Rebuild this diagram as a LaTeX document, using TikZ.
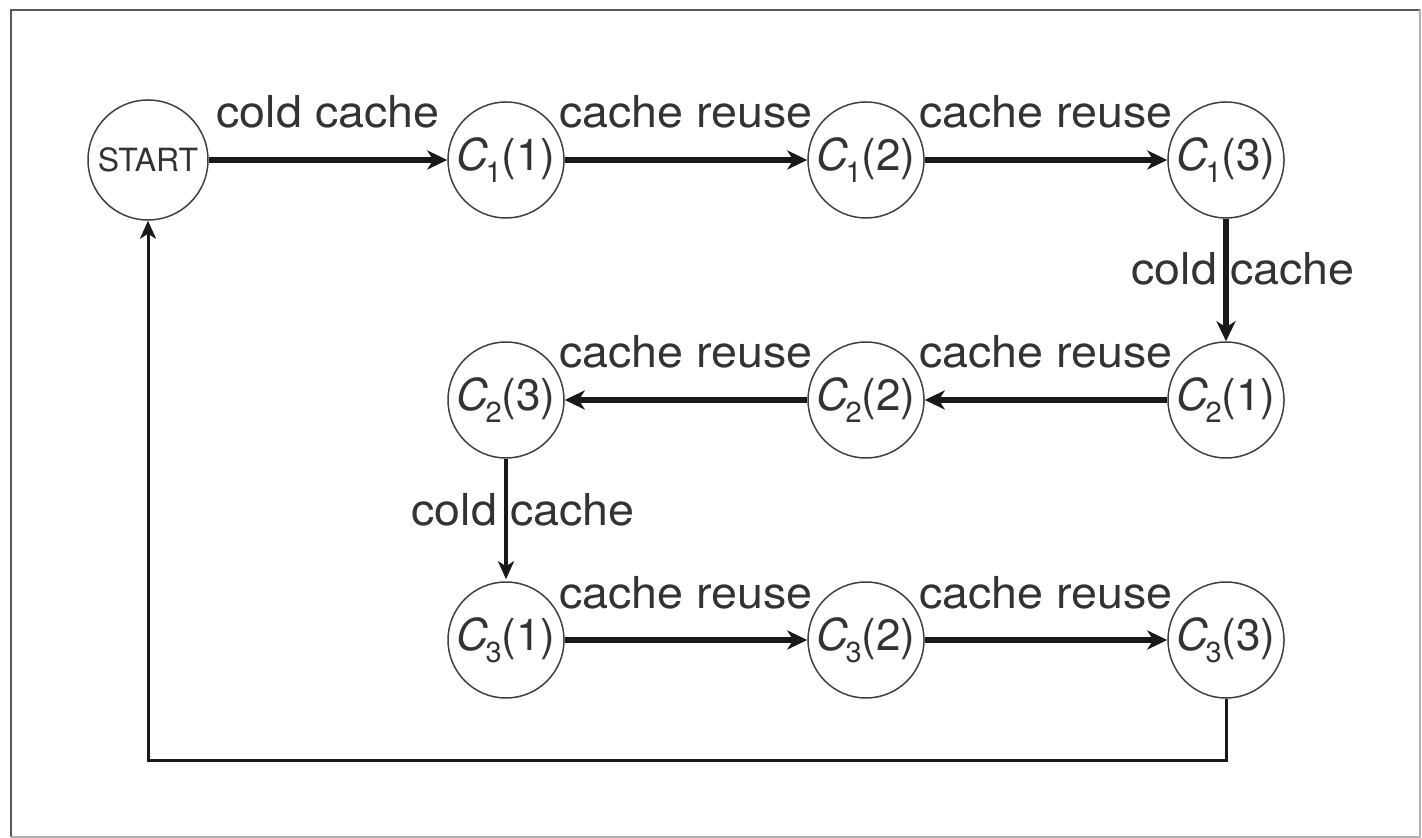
\documentclass[tikz,border=0pt]{standalone}
\usepackage{fontspec}
\setmainfont{TeX Gyre Heros}
\newfontfamily\lblfont{TeX Gyre Heros}[FakeStretch=1.06]
\usetikzlibrary{arrows.meta}

% state name C_i(j): italic C, lowered index, step number in parentheses
\newcommand{\cst}[2]{\textit{C}\kern-0.06em\raisebox{-0.27em}{\fontsize{14.5}{15}\selectfont #1}(#2)}

\begin{document}
\begin{tikzpicture}[x=0.5pt,y=-0.5pt,
  state/.style={circle, draw=black!75, line width=0.75pt, minimum size=58pt,
    inner sep=0pt, text=black!80, font=\fontsize{22}{22}\selectfont},
  startstate/.style={state, minimum size=60pt, font=\fontsize{16}{16}\selectfont},
  flow/.style={draw=black!90, line width=2.7pt,
    -{Stealth[length=10pt,width=9.5pt,inset=3pt]}},
  thinflow/.style={draw=black!90, line width=1.7pt,
    -{Stealth[length=9pt,width=8pt,inset=2.5pt]}},
  lbl/.style={font=\lblfont\fontsize{22}{22}\selectfont, text=black!80,
    anchor=base, yshift=16pt},
  vlbl/.style={font=\lblfont\fontsize{22}{22}\selectfont, text=black!80,
    anchor=base, xshift=8.5pt, yshift=-2.5pt}]

\useasboundingbox (0,0) rectangle (1422,838);

% outer frame
\draw[black!65, line width=1.4pt] (11,837) -- (11,10) -- (1420,10);
\draw[black!30, line width=0.8pt] (1420,10) -- (1420,837) -- (11,837);

% states
\node[startstate] (start) at (148,160) {START};
\node[state] (c11) at (506,160) {\cst{1}{1}};
\node[state] (c12) at (866,160) {\cst{1}{2}};
\node[state] (c13) at (1226,160) {\cst{1}{3}};
\node[state] (c21) at (1226,400) {\cst{2}{1}};
\node[state] (c22) at (866,400) {\cst{2}{2}};
\node[state] (c23) at (506,400) {\cst{2}{3}};
\node[state] (c31) at (506,640) {\cst{3}{1}};
\node[state] (c32) at (866,640) {\cst{3}{2}};
\node[state] (c33) at (1226,640) {\cst{3}{3}};

% transitions
\draw[flow] (start) -- node[lbl]{cold cache} (c11);
\draw[flow] (c11) -- node[lbl]{cache reuse} (c12);
\draw[flow] (c12) -- node[lbl]{cache reuse} (c13);
\draw[flow] (c13) -- node[vlbl]{cold cache} (c21);
\draw[flow] (c21) -- node[lbl]{cache reuse} (c22);
\draw[flow] (c22) -- node[lbl]{cache reuse} (c23);
\draw[thinflow, shorten >=1pt] (c23) -- node[vlbl]{cold cache} (c31);
\draw[flow] (c31) -- node[lbl]{cache reuse} (c32);
\draw[flow] (c32) -- node[lbl]{cache reuse} (c33);

% return to start
\draw[thinflow, line width=1.5pt] (c33.south) -- ++(0,62) -| (start.south);

\end{tikzpicture}
\end{document}
